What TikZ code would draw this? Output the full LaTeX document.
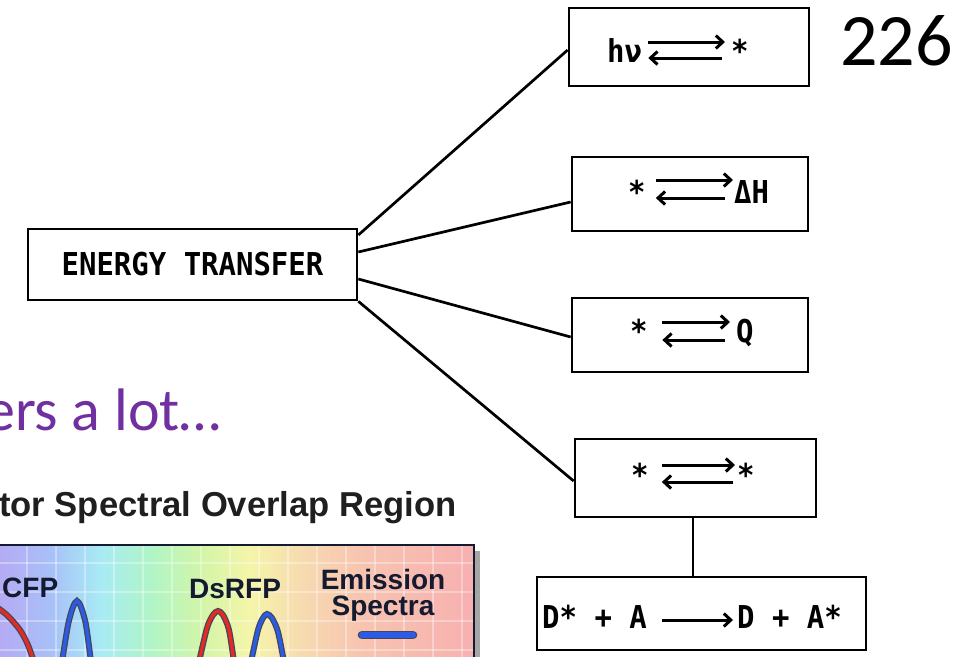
\documentclass[tikz,border=0pt]{standalone}
\usepackage{fontspec}
\usetikzlibrary{arrows.meta,positioning}
\newfontfamily\typefont[FakeStretch=0.92]{DejaVu Sans Mono}
\newfontfamily\slidefont{Carlito}
\newfontfamily\figfont{Liberation Sans}
\definecolor{slidepurple}{HTML}{7030A0}
\definecolor{figink}{HTML}{141A30}
\definecolor{curvered}{HTML}{E42A22}
\definecolor{curveblue}{HTML}{2C5CE6}
\pgfdeclarehorizontalshading{spectrum}{100bp}{rgb(0bp)=(0.71,0.67,0.96); rgb(25.5bp)=(0.71,0.67,0.96); rgb(30.7bp)=(0.66,0.75,0.97); rgb(36bp)=(0.66,0.92,0.96); rgb(41.2bp)=(0.69,0.96,0.78); rgb(46.4bp)=(0.82,0.96,0.66); rgb(51.6bp)=(0.96,0.96,0.66); rgb(56.8bp)=(0.97,0.86,0.69); rgb(63.1bp)=(0.97,0.77,0.69); rgb(75bp)=(0.97,0.69,0.69); rgb(100bp)=(0.97,0.69,0.69)}

\begin{document}
\begin{tikzpicture}[x=1pt, y=-1pt,
        box/.style={draw, line width=2.7pt, inner sep=0pt},
        typed/.style={inner sep=0pt, font=\typefont\bfseries\fontsize{31.5}{31.5}\selectfont},
        link/.style={line width=2.7pt},
        eqarrow/.style={line width=3pt, -{Straight Barb[length=7pt,width=13pt]}},
        gridline/.style={white, opacity=0.35, line width=1.4pt},
        peak/.style={draw=figink!80, line width=1.3pt, double distance=3.4pt},
        figlabel/.style={inner sep=0pt, text=figink, font=\figfont\bfseries\fontsize{28}{26}\selectfont}]
            \useasboundingbox (0,0) rectangle (963,656);
            \clip (0,0) rectangle (963,656);
            \node [box, typed, minimum width=329pt, minimum height=71pt] (et) at (192.5,264.5) {ENERGY TRANSFER};
            \node [box, minimum width=240pt, minimum height=78pt] (b1) at (689,47) {};
            \node [box, minimum width=236pt, minimum height=74pt] (b2) at (690,194) {};
            \node [box, minimum width=236pt, minimum height=74pt] (b3) at (690,335) {};
            \node [box, minimum width=241pt, minimum height=78pt] (b4) at (695.5,478) {};
            \node [box, minimum width=329pt, minimum height=73pt] (b5) at (701.5,613.5) {};
            \node [typed, anchor=base west] (b1l) at (607,62) {hν};
            \node [typed, anchor=base west] (b1r) at (731,62) {*};
            \node [typed, anchor=base west] (b2l) at (628,203) {*};
            \node [typed, anchor=base west] (b2r) at (734,203) {ΔH};
            \node [typed, anchor=base west] (b3l) at (630,342) {*};
            \node [typed, anchor=base west] (b3r) at (736,342) {Q};
            \node [typed, anchor=base west] (b4l) at (631,486) {*};
            \node [typed, anchor=base west] (b4r) at (737,486) {*};
            \node [typed, anchor=base west] (b5l) at (542,628) {D* + A};
            \node [typed, anchor=base west] (b5r) at (737,628) {D + A*};
            \draw [eqarrow, shorten <=6pt, shorten >=6pt] (b1l.east |- 0,42) -- (b1r.west |- 0,42);
            \draw [eqarrow, shorten <=9pt, shorten >=6pt] (b1r.west |- 0,58) -- (b1l.east |- 0,58);
            \draw [eqarrow, shorten <=10pt, shorten >=1pt] (b2l.east |- 0,180) -- (b2r.west |- 0,180);
            \draw [eqarrow, shorten <=9pt, shorten >=10pt] (b2r.west |- 0,198) -- (b2l.east |- 0,198);
            \draw [eqarrow, shorten <=14.5pt, shorten >=6pt] (b3l.east |- 0,322) -- (b3r.west |- 0,322);
            \draw [eqarrow, shorten <=11pt, shorten >=14.5pt] (b3r.west |- 0,340) -- (b3l.east |- 0,340);
            \draw [eqarrow, shorten <=13pt, shorten >=2pt] (b4l.east |- 0,465) -- (b4r.west |- 0,465);
            \draw [eqarrow, shorten <=4pt, shorten >=13pt] (b4r.west |- 0,482) -- (b4l.east |- 0,482);
            \draw [eqarrow, shorten <=15pt, shorten >=4pt] (b5l.east |- 0,620) -- (b5r.west |- 0,620);
            \draw [link] (et.east |- 0,235) -- (b1.west |- 0,50);
            \draw [link] (et.east |- 0,252) -- (b2.west |- 0,202);
            \draw [link] (et.east |- 0,279) -- (b3.west |- 0,337);
            \draw [link] (et.south east) -- (b4.west |- 0,481);
            \draw [link] (b4.south -| 693,0) -- (b5.north -| 693,0);
            \node [inner sep=0pt, anchor=base west, font=\slidefont\fontsize{74}{74}\selectfont] (pagenum) at (840,65) {226};
            \node [inner sep=0pt, anchor=base west, text=slidepurple, font=\slidefont\fontsize{60}{60}\selectfont] (caption) at (-15,430) {ers a lot…};
            \node [inner sep=0pt, anchor=base west, text=black!88, font=\figfont\bfseries\fontsize{34.6}{35}\selectfont] (figtitle) at (-1,516) {tor Spectral Overlap Region};
            \fill [shading=spectrum] (-5,545) rectangle (474,670);
            \foreach \gx in {27,56,...,470}
                \draw [gridline] (\gx,545) -- (\gx,670);
            \foreach \gy in {563,592,621,650}
                \draw [gridline] (-5,\gy) -- (474,\gy);
            \fill [black!35] (474.6,551) rectangle (480,670);
            \draw [line width=1.3pt, draw=figink] (-5,545) rectangle (474,670);
            \draw [peak, double=curvered] plot [smooth] coordinates {(-2,608) (8,616) (20,630) (28,645) (34,662)};
            \draw [peak, double=curveblue] plot [smooth] coordinates {(62,662) (68,625) (73,607) (77,601) (81,607) (86,625) (91,662)};
            \draw [peak, double=curvered] plot [smooth] coordinates {(199,662) (207,628) (213,615) (218,611) (223,615) (229,630) (234,662)};
            \draw [peak, double=curveblue] plot [smooth] coordinates {(251,662) (258,630) (263,618) (267,614) (272,618) (278,632) (284,662)};
            \draw [peak, double=curveblue, double distance=6pt, line cap=round] (362,635) -- (413,635);
            \node [figlabel, anchor=base west] (cfp) at (2,597) {CFP};
            \node [figlabel, anchor=base west] (dsrfp) at (189,598) {DsRFP};
            \node [figlabel, anchor=north, align=center] (emission) at (383,569) {Emission\\Spectra};
\end{tikzpicture}
\end{document}
